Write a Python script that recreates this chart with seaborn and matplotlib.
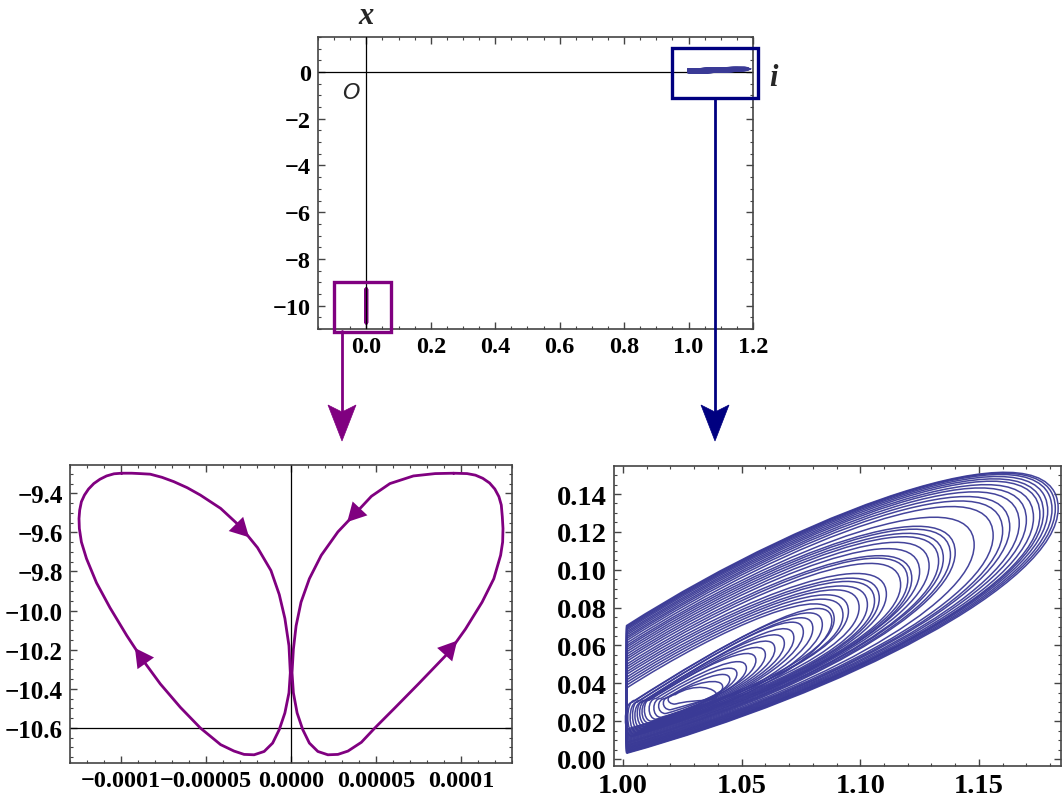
import numpy as np
import pandas as pd
import seaborn as sns
import matplotlib.pyplot as plt
from matplotlib.path import Path
from matplotlib.patches import PathPatch, Rectangle, Polygon
from matplotlib.lines import Line2D
from matplotlib.ticker import MultipleLocator, FixedLocator, FixedFormatter

# ---- butterfly orbit (x in units of 1e-4) ----
left_x = [-0.996, -0.937, -0.888, -0.828, -0.759, -0.690, -0.611, -0.533, -0.414, -0.296,
          -0.197, -0.118, -0.069, -0.036, -0.012, -0.004, -0.012, -0.036, -0.069, -0.108,
          -0.158, -0.217, -0.276, -0.335, -0.414, -0.533, -0.651, -0.769, -0.870, -0.966,
          -1.065, -1.144, -1.203, -1.233, -1.245, -1.247, -1.243, -1.233, -1.215, -1.191,
          -1.160, -1.124, -1.085, -1.041, -0.996]
left_y = [-9.297, -9.297, -9.299, -9.302, -9.318, -9.340, -9.371, -9.409, -9.477, -9.572,
          -9.678, -9.795, -9.918, -10.040, -10.180, -10.318, -10.421, -10.524, -10.609, -10.678,
          -10.721, -10.738, -10.736, -10.719, -10.686, -10.601, -10.495, -10.375, -10.255, -10.128,
          -9.985, -9.858, -9.734, -9.649, -9.580, -9.529, -9.486, -9.443, -9.409, -9.378,
          -9.350, -9.328, -9.311, -9.300, -9.297]
right_x = [0.957, 0.848, 0.720, 0.582, 0.473, 0.385, 0.276, 0.178, 0.108, 0.059,
           0.030, 0.014, 0.006, 0.014, 0.036, 0.069, 0.108, 0.158, 0.217, 0.276,
           0.335, 0.414, 0.493, 0.611, 0.750, 0.929, 1.026, 1.124, 1.193, 1.233,
           1.245, 1.247, 1.243, 1.237, 1.223, 1.199, 1.168, 1.128, 1.085, 1.036,
           0.957]
right_y = [-9.297, -9.299, -9.311, -9.350, -9.415, -9.497, -9.597, -9.717, -9.837, -9.957,
           -10.078, -10.198, -10.318, -10.421, -10.524, -10.609, -10.678, -10.721, -10.738, -10.736,
           -10.719, -10.674, -10.601, -10.498, -10.375, -10.213, -10.095, -9.957, -9.837, -9.717,
           -9.649, -9.580, -9.520, -9.460, -9.417, -9.378, -9.347, -9.323, -9.307, -9.299,
           -9.297]
# points where the flow arrows sit on each lobe
left_arrows = [9, 28]
right_arrows = [5, 25]

# ---- chaotic attractor (x, i): loops that slide up the wall x = 1.0015 ----
wall_x = 1.0015
wall_lo = [0.0030, 0.0033, 0.0036, 0.0040, 0.0042, 0.0046, 0.0050, 0.0053, 0.0057, 0.0060,
           0.0064, 0.0068, 0.0072, 0.0075, 0.0080, 0.0084, 0.0088, 0.0092, 0.0097, 0.0102,
           0.0107, 0.0112, 0.0117, 0.0122, 0.0128, 0.0134, 0.0140, 0.0146, 0.0152, 0.0158]
wall_hi = [0.0705, 0.0700, 0.0694, 0.0688, 0.0681, 0.0672, 0.0664, 0.0655, 0.0645, 0.0636,
           0.0625, 0.0612, 0.0600, 0.0590, 0.0578, 0.0566, 0.0553, 0.0540, 0.0528, 0.0515,
           0.0500, 0.0487, 0.0474, 0.0460, 0.0447, 0.0432, 0.0418, 0.0404, 0.0390, 0.0375]
wall_tip_x = [1.1834, 1.1822, 1.1808, 1.1790, 1.1772, 1.1757, 1.1730, 1.1700, 1.1670, 1.1630,
              1.1600, 1.1560, 1.1480, 1.1400, 1.1380, 1.1350, 1.1330, 1.1290, 1.1250, 1.1217,
              1.1200, 1.1170, 1.1110, 1.1080, 1.1060, 1.1030, 1.0995, 1.0950, 1.0927, 1.0890]
wall_tip_y = [0.1324, 0.1322, 0.1318, 0.1310, 0.1300, 0.1290, 0.1275, 0.1262, 0.1245, 0.1225,
              0.1205, 0.1180, 0.1130, 0.1090, 0.1078, 0.1060, 0.1045, 0.1020, 0.0990, 0.0954,
              0.0945, 0.0920, 0.0870, 0.0849, 0.0835, 0.0815, 0.0800, 0.0780, 0.0760, 0.0740]
# loops spiralling in to the focus near (1.03, 0.033)
inner_x0 = [1.004, 1.005, 1.006, 1.007, 1.008, 1.009, 1.010, 1.011, 1.012, 1.014,
            1.016, 1.018, 1.020, 1.022]
inner_lo = [0.012, 0.013, 0.014, 0.015, 0.016, 0.017, 0.018, 0.019, 0.020, 0.021,
            0.022, 0.024, 0.026, 0.029]
inner_hi = [0.030, 0.031, 0.030, 0.031, 0.030, 0.031, 0.031, 0.031, 0.032, 0.032,
            0.032, 0.032, 0.033, 0.034]
inner_tip_x = [1.0880, 1.0840, 1.0800, 1.0760, 1.0720, 1.0680, 1.0640, 1.0600, 1.0560, 1.0520,
               1.0480, 1.0450, 1.0420, 1.0395]
inner_tip_y = [0.0730, 0.0710, 0.0690, 0.0670, 0.0640, 0.0610, 0.0580, 0.0550, 0.0520, 0.0480,
               0.0450, 0.0420, 0.0380, 0.0335]

purple = '#800080'
navy = '#000080'
loop_col = '#3a3a96'

sns.set_style("ticks")
plt.rcParams['font.family'] = ['Liberation Serif', 'DejaVu Serif']
plt.rcParams.update({
    'font.weight': 'bold',
    'axes.unicode_minus': True,
    'xtick.direction': 'in', 'ytick.direction': 'in',
    'xtick.top': True, 'ytick.right': True,
    'xtick.major.size': 5, 'ytick.major.size': 5,
    'xtick.minor.size': 2.5, 'ytick.minor.size': 2.5,
    'xtick.major.width': 1.0, 'ytick.major.width': 1.0,
    'xtick.minor.width': 0.8, 'ytick.minor.width': 0.8,
    'axes.edgecolor': '#444444', 'axes.linewidth': 1.2,
    'xtick.color': '#444444', 'ytick.color': '#444444',
    'xtick.labelcolor': 'black', 'ytick.labelcolor': 'black',
})

W, H = 1062, 804
fig = plt.figure(figsize=(W / 100, H / 100), dpi=100)


def fbox(l, t, r, b):
    return [l / W, 1 - b / H, (r - l) / W, (b - t) / H]


def fpt(px, py):
    return (px / W, 1 - py / H)


ax_top = fig.add_axes(fbox(318, 38, 753, 330))
ax_bl = fig.add_axes(fbox(70, 466, 512, 764))
ax_br = fig.add_axes(fbox(614, 467, 1061, 767))

butterfly = pd.concat([
    pd.DataFrame({'x': np.array(left_x) * 1e-4, 'y': left_y, 'lobe': 'left'}),
    pd.DataFrame({'x': np.array(right_x) * 1e-4, 'y': right_y, 'lobe': 'right'}),
], ignore_index=True)


def loop_path(x0, lo, hi, tx, ty, r=0.0):
    # one closed turn of the orbit: up the left side, over the top to the tip, back underneath
    dx = tx - x0
    verts = [(x0, lo)]
    codes = [Path.MOVETO]
    if r > 0:
        verts += [(x0 - r, lo), (x0 - r, hi), (x0, hi)]
        codes += [Path.CURVE4] * 3
    else:
        verts += [(x0, hi)]
        codes += [Path.LINETO]
    verts += [(x0 + 0.45 * dx, hi + 0.36 * dx), (tx, ty + 0.25 * dx), (tx, ty),
              (tx, ty - 0.22 * dx), (x0 + 0.5 * dx, lo + 0.175 * dx), (x0, lo)]
    codes += [Path.CURVE4] * 6
    return Path(verts, codes)


loops = [loop_path(wall_x, a, b, c, d) for a, b, c, d in zip(wall_lo, wall_hi, wall_tip_x, wall_tip_y)]
loops += [loop_path(x0, a, b, c, d, 0.004) for x0, a, b, c, d in
          zip(inner_x0, inner_lo, inner_hi, inner_tip_x, inner_tip_y)]

# ---------------- top overview ----------------
ax = ax_top
ax.axhline(0, color='black', lw=0.9, zorder=1)
sns.lineplot(data=butterfly, x='x', y='y', units='lobe', estimator=None, sort=False,
             color=purple, lw=2.6, ax=ax, legend=False, zorder=2)
ax.axvline(0, color='black', lw=0.9, zorder=3)
for p in loops:
    ax.add_patch(PathPatch(p, fill=False, ec=loop_col, lw=2.6, zorder=2))
ax.set_xlim(-0.15, 1.2)
ax.set_ylim(-11, 1.5)
ax.xaxis.set_major_locator(MultipleLocator(0.2))
ax.xaxis.set_minor_locator(MultipleLocator(0.05))
ax.yaxis.set_major_locator(MultipleLocator(2))
ax.yaxis.set_minor_locator(MultipleLocator(0.5))
ax.xaxis.set_major_formatter(plt.FuncFormatter(lambda v, p: f"{v:.1f}"))
ax.yaxis.set_major_formatter(plt.FuncFormatter(lambda v, p: f"{v:.0f}".replace('-', '\u2212')))
ax.tick_params(labelsize=17.5, pad=5)
ax.set_xlabel('')
ax.set_ylabel('')
ax.add_patch(Rectangle((-0.099, -11.13), 0.177, 2.15, fill=False, ec=purple, lw=2.4, clip_on=False, zorder=4))
ax.add_patch(Rectangle((0.95, -1.09), 0.264, 2.11, fill=False, ec=navy, lw=2.4, clip_on=False, zorder=4))
fig.text(*fpt(366, 17), 'x', fontsize=22, style='italic', weight='bold', ha='center', va='center')
fig.text(*fpt(773, 79), 'i', fontsize=22, style='italic', weight='bold', ha='center', va='center')
fig.text(*fpt(351, 93), 'O', fontsize=16, style='italic', weight='normal', family='DejaVu Sans',
         ha='center', va='center')

# ---------------- bottom-left: butterfly ----------------
ax = ax_bl
ax.axhline(-10.6, color='black', lw=0.9, zorder=1)
ax.axvline(0, color='black', lw=0.9, zorder=1)
sns.lineplot(data=butterfly, x='x', y='y', units='lobe', estimator=None, sort=False,
             color=purple, lw=2.0, ax=ax, legend=False, zorder=2)
for line in ax.lines:
    line.set_solid_joinstyle('round')
for xs, ys, idx in [(left_x, left_y, left_arrows), (right_x, right_y, right_arrows)]:
    for k in idx:
        tip = ((0.5 * xs[k] + 0.5 * xs[k + 1]) * 1e-4, 0.5 * ys[k] + 0.5 * ys[k + 1])
        tail = (xs[k - 1] * 1e-4, ys[k - 1])
        ax.annotate('', xy=tip, xytext=tail,
                    arrowprops=dict(arrowstyle='-|>,head_length=0.5,head_width=0.27', color=purple,
                                    lw=0, mutation_scale=27, shrinkA=0, shrinkB=0))
ax.set_xlim(-1.3e-4, 1.3e-4)
ax.set_ylim(-10.78, -9.255)
ax.xaxis.set_major_locator(FixedLocator([-1e-4, -5e-5, 0, 5e-5, 1e-4]))
ax.xaxis.set_major_formatter(FixedFormatter(['\u22120.0001', '\u22120.00005', '0.0000', '0.00005', '0.0001']))
ax.xaxis.set_minor_locator(MultipleLocator(1e-5))
ax.yaxis.set_major_locator(MultipleLocator(0.2))
ax.yaxis.set_minor_locator(MultipleLocator(0.05))
ax.yaxis.set_major_formatter(plt.FuncFormatter(lambda v, p: f"{v:.1f}".replace('-', '\u2212')))
ax.tick_params(axis='x', labelsize=17.5, pad=5)
ax.tick_params(axis='y', labelsize=18, pad=5)
ax.set_xlabel('')
ax.set_ylabel('')

# ---------------- bottom-right: attractor ----------------
ax = ax_br
for p in loops:
    ax.add_patch(PathPatch(p, fill=False, ec=loop_col, lw=1.1, alpha=0.95))
ax.set_xlim(0.9962, 1.1846)
ax.set_ylim(-0.0037, 0.1548)
ax.xaxis.set_major_locator(MultipleLocator(0.05))
ax.xaxis.set_minor_locator(MultipleLocator(0.01))
ax.yaxis.set_major_locator(MultipleLocator(0.02))
ax.yaxis.set_minor_locator(MultipleLocator(0.005))
ax.xaxis.set_major_formatter(plt.FuncFormatter(lambda v, p: f"{v:.2f}"))
ax.yaxis.set_major_formatter(plt.FuncFormatter(lambda v, p: f"{v:.2f}"))
ax.tick_params(labelsize=20.5, pad=5)

# ---------------- zoom arrows ----------------
for x, y0, col in [(342, 332, purple), (715, 99, navy)]:
    fig.add_artist(Line2D([x / W, x / W], [1 - y0 / H, 1 - 412 / H], transform=fig.transFigure,
                          color=col, lw=2.0))
    head = [fpt(x, 442), fpt(x - 14, 406), fpt(x, 413), fpt(x + 14, 406)]
    fig.add_artist(Polygon(head, closed=True, transform=fig.transFigure, fc=col, ec=col, lw=0.5))

fig.savefig('out.png', dpi=100)
